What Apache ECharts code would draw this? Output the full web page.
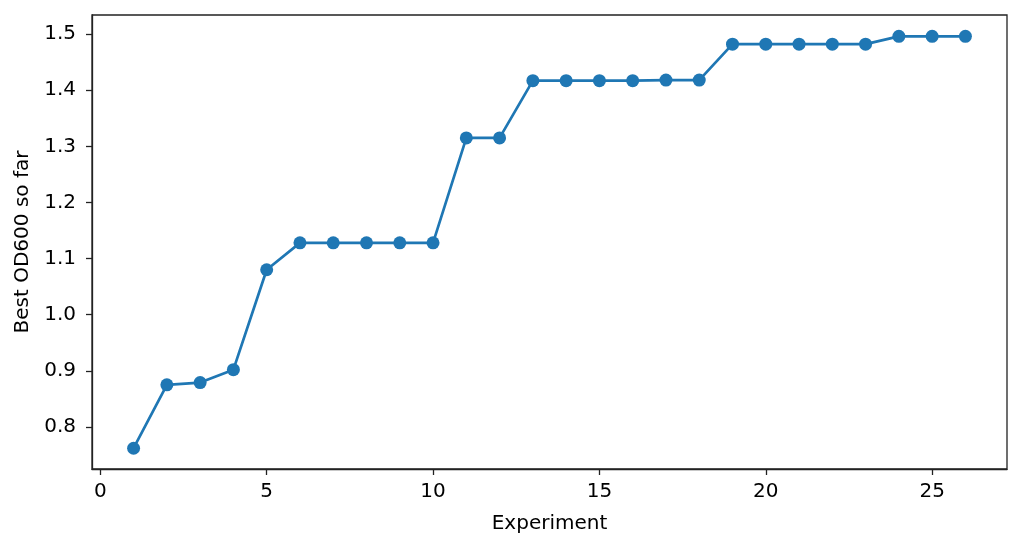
<!DOCTYPE html>
<html>
<head>
<meta charset="utf-8">
<script src="https://cdn.jsdelivr.net/npm/echarts@6/dist/echarts.min.js"></script>
<style>html,body{margin:0;padding:0;background:#fff}#c{width:1024px;height:549px}</style>
</head>
<body>
<div id="c"></div>
<script>
const experiments = [1,2,3,4,5,6,7,8,9,10,11,12,13,14,15,16,17,18,19,20,21,22,23,24,25,26];
const bestOD = [0.762,0.875,0.879,0.902,1.080,1.128,1.128,1.128,1.128,1.128,1.315,1.315,1.417,1.417,1.417,1.417,1.418,1.418,1.482,1.482,1.482,1.482,1.482,1.496,1.496,1.496];
const xTicks = [0,5,10,15,20,25];
const yTicks = [0.8,0.9,1.0,1.1,1.2,1.3,1.4,1.5];

const chart = echarts.init(document.getElementById('c'), null, {renderer:'canvas'});
const font = 'DejaVu Sans';
chart.setOption({
  animation:false,
  backgroundColor:'#fff',
  grid:{left:92,right:17,top:15,bottom:80,show:true,borderColor:'#222',borderWidth:1.3,backgroundColor:'transparent'},
  xAxis:{
    type:'value',min:-0.25,max:27.25,
    name:'Experiment',nameLocation:'middle',nameGap:45,
    nameTextStyle:{fontFamily:font,fontSize:20,color:'#000'},
    axisLine:{show:true,onZero:false,lineStyle:{color:'#222',width:1.3}},
    axisTick:{show:true,length:6,lineStyle:{color:'#222',width:1.3},customValues:xTicks},
    axisLabel:{fontFamily:font,fontSize:20,color:'#000',margin:13,customValues:xTicks,formatter:v=>String(v)},
    splitLine:{show:false}
  },
  yAxis:{
    type:'value',min:0.725,max:1.534,
    name:'Best OD600 so far',nameLocation:'middle',nameGap:59,
    nameTextStyle:{fontFamily:font,fontSize:20,color:'#000'},
    axisLine:{show:true,onZero:false,lineStyle:{color:'#222',width:1.3}},
    axisTick:{show:true,length:6,lineStyle:{color:'#222',width:1.3},customValues:yTicks},
    axisLabel:{fontFamily:font,fontSize:20,color:'#000',margin:16,customValues:yTicks,formatter:v=>v.toFixed(1)},
    splitLine:{show:false}
  },
  series:[{
    type:'line',
    data:experiments.map((x,i)=>[x,bestOD[i]]),
    color:'#1f77b4',
    lineStyle:{width:2.7,color:'#1f77b4'},
    symbol:'circle',symbolSize:13,
    itemStyle:{color:'#1f77b4'}
  }]
});
</script>
</body>
</html>
